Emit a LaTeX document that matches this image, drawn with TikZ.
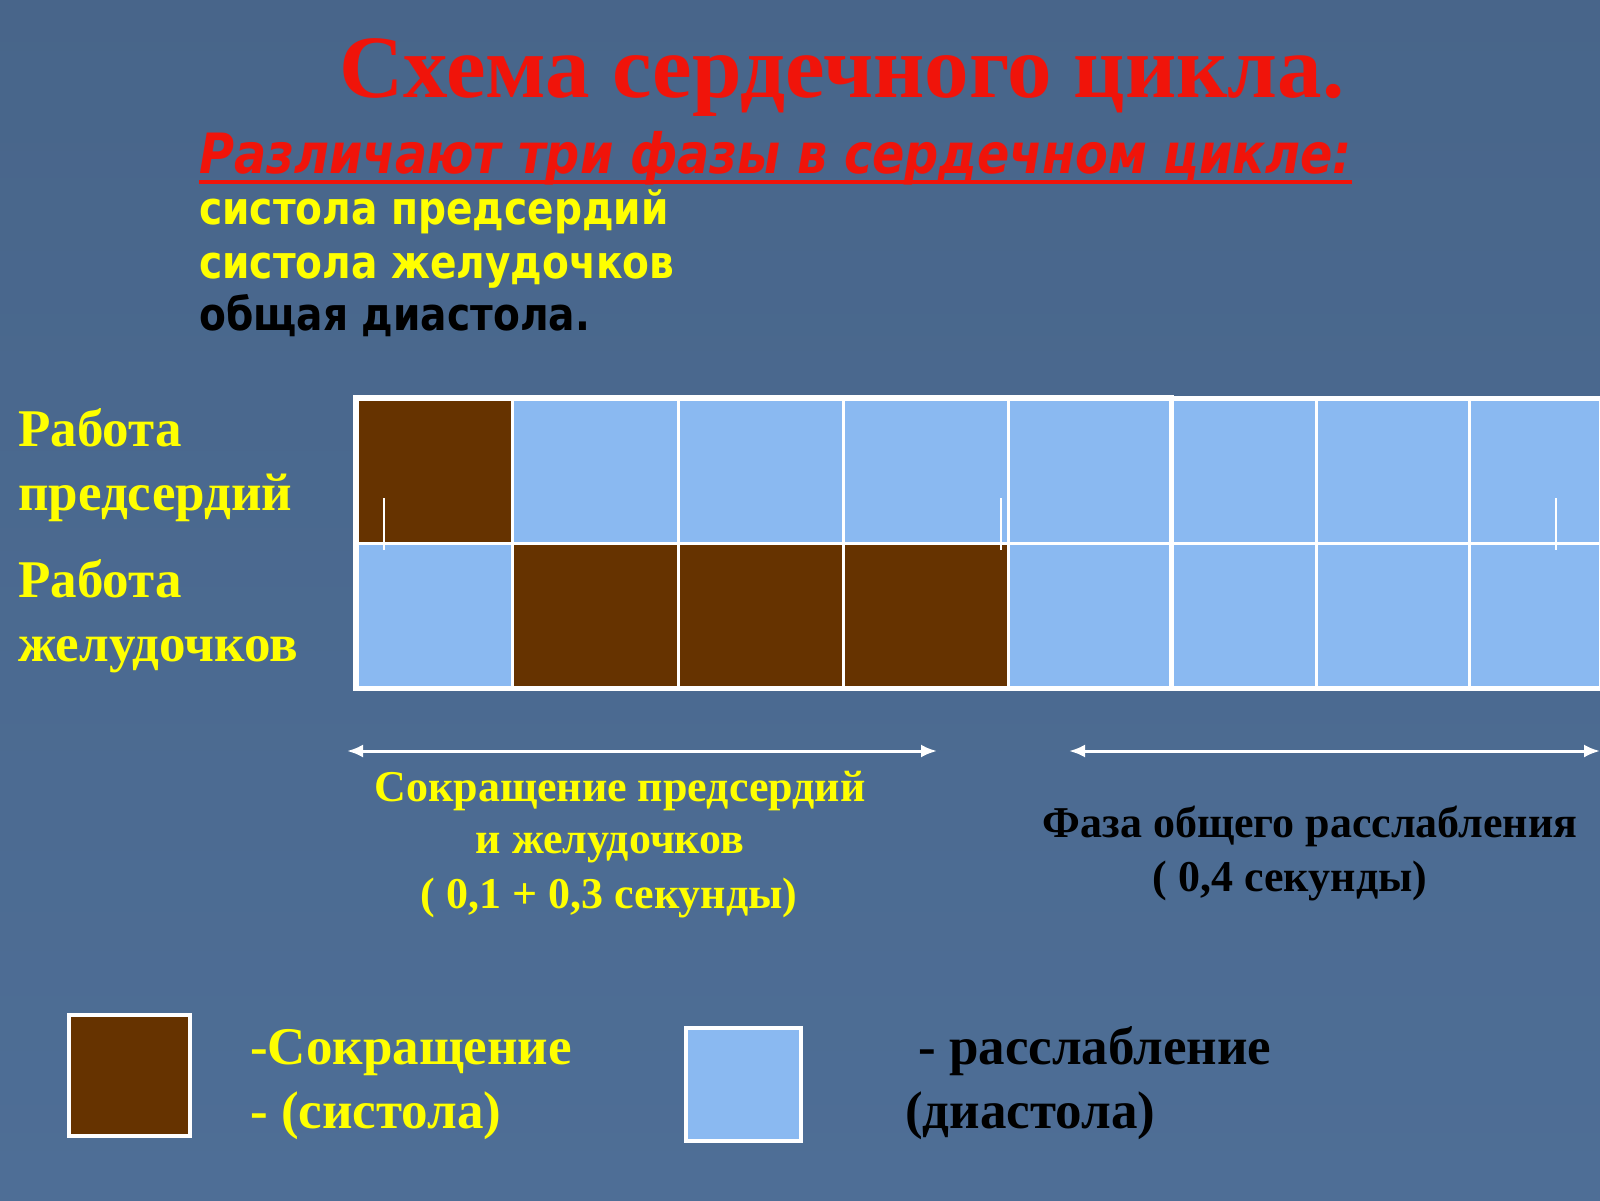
\documentclass[tikz,border=0pt]{standalone}
\usepackage{fontspec}
\setmainfont{Liberation Serif}
\newfontfamily\tahoma[FakeStretch=0.86]{DejaVu Sans}
\usetikzlibrary{arrows.meta}

\definecolor{bgblue}{RGB}{78,110,150}
\definecolor{brn}{RGB}{102,51,0}
\definecolor{lblue}{RGB}{138,185,241}
\definecolor{ylw}{RGB}{255,255,0}
\definecolor{ttlred}{RGB}{240,20,10}

\tikzset{
  cell/.style={draw=white,line width=3pt,minimum height=144pt,inner sep=0pt},
  lbl/.style={font=\fontsize{53}{60}\selectfont\bfseries,text=ylw,anchor=base west},
  phase/.style={font=\tahoma\fontsize{45.5}{50}\selectfont\bfseries,anchor=base west},
  note/.style={font=\fontsize{44}{50}\selectfont\bfseries,anchor=base},
  legtext/.style={font=\fontsize{53}{60}\selectfont\bfseries,anchor=base west},
  legbox/.style={draw=white,line width=4pt,inner sep=0pt},
  dblarrow/.style={white,line width=3pt,{Latex[length=16pt,width=13pt]}-{Latex[length=16pt,width=13pt]}},
  tick/.style={white,line width=2pt}
}

\begin{document}
\begin{tikzpicture}[x=1pt,y=-1pt,every node/.style={inner sep=0pt}]
  \shade[top color=bgblue!92!black,bottom color=bgblue] (0,0) rectangle (1600,1200);
  \useasboundingbox (0,0) rectangle (1600,1200);

  % title and phases
  \node[font=\fontsize{89}{100}\selectfont\bfseries,text=ttlred,anchor=base] (title) at (842,97) {Схема сердечного цикла.};
  \node[phase,text=ttlred,font=\tahoma\fontsize{55.5}{60}\selectfont\bfseries\itshape] (sub) at (199,173) {Различают три фазы в сердечном цикле:};
  \draw[ttlred,line width=4pt] ([yshift=-9pt]sub.base west) -- ([yshift=-9pt]sub.base east);
  \node[phase,text=ylw] (ph1) at (199,224) {систола предсердий};
  \node[phase,text=ylw] (ph2) at (199,278) {систола желудочков};
  \node[phase,text=black] (ph3) at (199,330) {общая диастола.};

  % row labels
  \node[lbl] (ra1) at (18,446) {Работа};
  \node[lbl] (ra2) at (18,510) {предсердий};
  \node[lbl] (rv1) at (18,597) {Работа};
  \node[lbl] (rv2) at (18,661) {желудочков};

  % grid: atria (a) and ventricles (v)
  \foreach \i/\xa/\xb/\ca/\cv in {1/357/512/brn/lblue,2/512/678/lblue/brn,3/678/843/lblue/brn,
      4/843/1008/lblue/brn,5/1008/1170/lblue/lblue,6/1170/1316/lblue/lblue,
      7/1316/1469/lblue/lblue,8/1469/1600/lblue/lblue}{
    \node[cell,fill=\ca,minimum width={\xb-\xa}] (a\i) at ({(\xa+\xb)/2},471) {};
    \node[cell,fill=\cv,minimum width={\xb-\xa}] (v\i) at ({(\xa+\xb)/2},615) {};
  }
  \draw[white,line width=5pt] (a1.north west) rectangle (v5.south east);
  \draw[white,line width=4pt] (a6.north west) -- (a8.north east);
  \draw[white,line width=4pt] (v6.south west) -- (v8.south east);
  \draw[tick] (384,498) -- (384,550);
  \draw[tick] (1001,498) -- (1001,550);
  \draw[tick] (1556,498) -- (1556,550);

  % durations
  \coordinate (s1) at (347,751);
  \coordinate (s2) at (937,751);
  \coordinate (d1) at (1069,751);
  \coordinate (d2) at (1600,751);
  \draw[dblarrow] (s1) -- (s2);
  \draw[dblarrow] (d1) -- (d2);
  \node[note,text=ylw] (sys1) at (620,801) {Сокращение\ предсердий};
  \node[note,text=ylw] (sys2) at (610,853) {и желудочков};
  \node[note,text=ylw] (sys3) at (609,908) {( 0,1 + 0,3 секунды)};
  \node[note,text=black] (dia1) at (1310,837) {Фаза общего расслабления};
  \node[note,text=black] (dia2) at (1290,891) {( 0,4 секунды)};

  % legend
  \node[legbox,fill=brn,minimum width=121pt,minimum height=121pt] (kbrn) at (129.5,1075.5) {};
  \node[legbox,fill=lblue,minimum width=115pt,minimum height=113pt] (kblue) at (743.5,1084.5) {};
  \node[legtext,text=ylw] (k1) at (250,1064) {-Сокращение};
  \node[legtext,text=ylw] (k2) at (250,1128) {- (систола)};
  \node[legtext,text=black] (k3) at (918,1064) {- расслабление};
  \node[legtext,text=black] (k4) at (905,1128) {(диастола)};
\end{tikzpicture}
\end{document}
